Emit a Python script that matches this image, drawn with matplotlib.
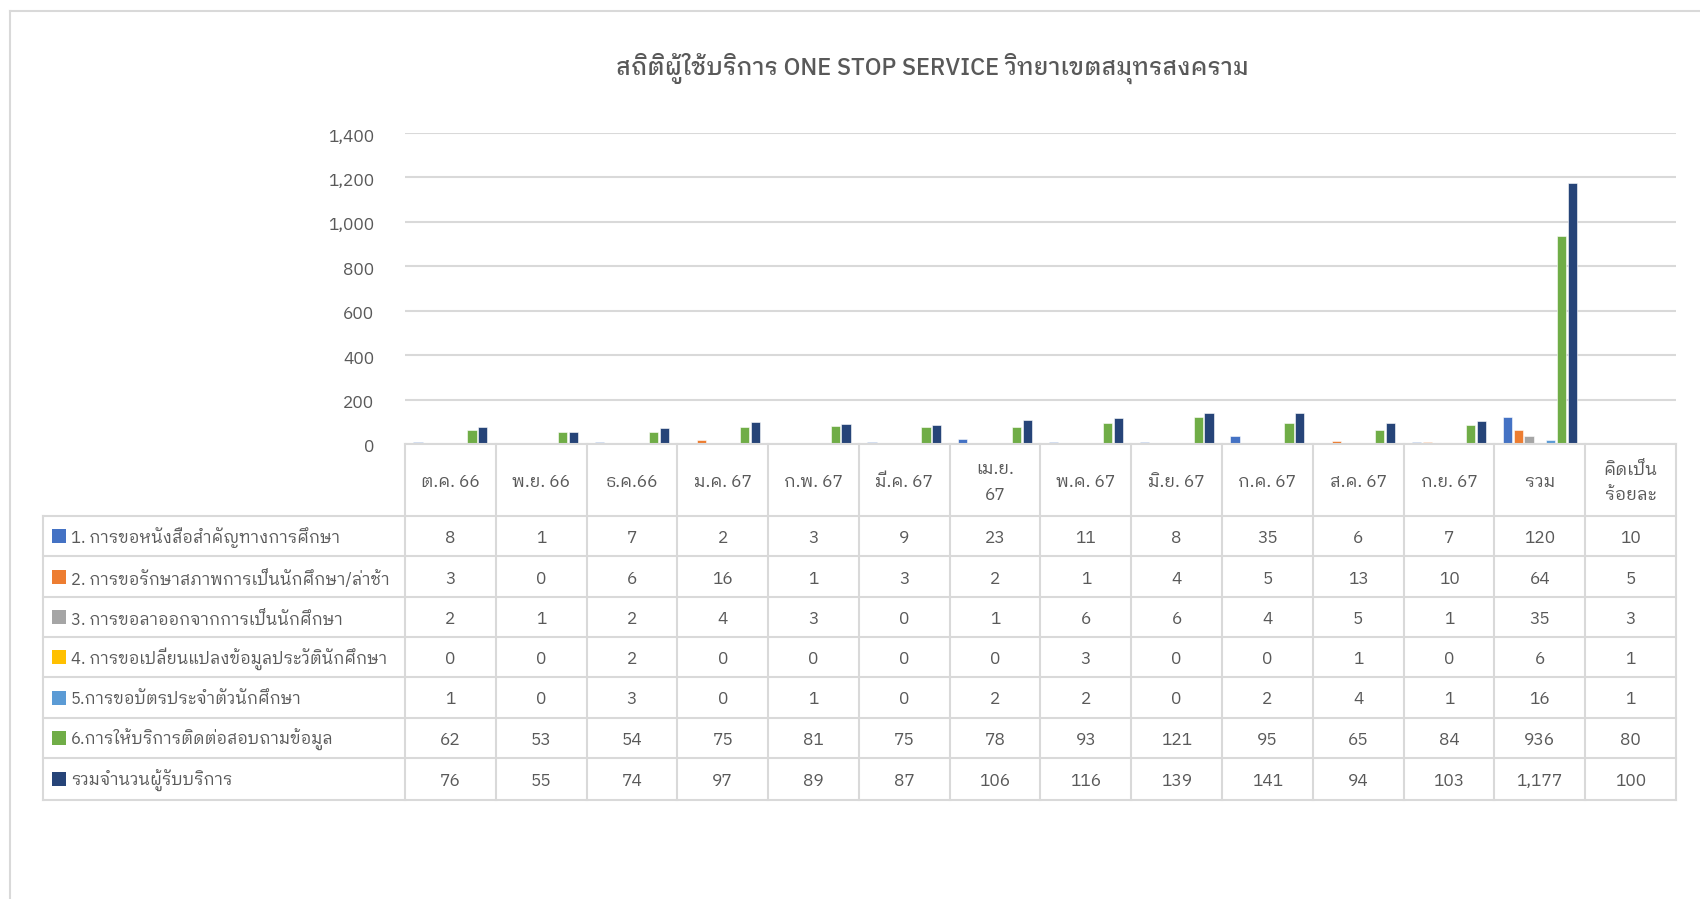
import matplotlib
matplotlib.use("Agg")
import matplotlib.pyplot as plt
import matplotlib.transforms as mtrans
import numpy as np

plt.rcParams["font.family"] = ["IBM Plex Sans Thai Looped", "Loma", "DejaVu Sans"]

title = "สถิติผู้ใช้บริการ ONE STOP SERVICE วิทยาเขตสมุทรสงคราม"
months = ["ต.ค. 66", "พ.ย. 66", "ธ.ค.66", "ม.ค. 67", "ก.พ. 67", "มี.ค. 67", "เม.ย.\n67",
          "พ.ค. 67", "มิ.ย. 67", "ก.ค. 67", "ส.ค. 67", "ก.ย. 67", "รวม", "คิดเป็น\nร้อยละ"]
labels = ["1. การขอหนังสือสำคัญทางการศึกษา",
          "2. การขอรักษาสภาพการเป็นนักศึกษา/ล่าช้า",
          "3. การขอลาออกจากการเป็นนักศึกษา",
          "4. การขอเปลี่ยนแปลงข้อมูลประวัตินักศึกษา",
          "5.การขอบัตรประจำตัวนักศึกษา",
          "6.การให้บริการติดต่อสอบถามข้อมูล",
          "รวมจำนวนผู้รับบริการ"]
s1 = [8, 1, 7, 2, 3, 9, 23, 11, 8, 35, 6, 7, 120, 10]
s2 = [3, 0, 6, 16, 1, 3, 2, 1, 4, 5, 13, 10, 64, 5]
s3 = [2, 1, 2, 4, 3, 0, 1, 6, 6, 4, 5, 1, 35, 3]
s4 = [0, 0, 2, 0, 0, 0, 0, 3, 0, 0, 1, 0, 6, 1]
s5 = [1, 0, 3, 0, 1, 0, 2, 2, 0, 2, 4, 1, 16, 1]
s6 = [62, 53, 54, 75, 81, 75, 78, 93, 121, 95, 65, 84, 936, 80]
s7 = [76, 55, 74, 97, 89, 87, 106, 116, 139, 141, 94, 103, 1177, 100]
series = [s1, s2, s3, s4, s5, s6, s7]
colors = ["#4472C4", "#ED7D31", "#A5A5A5", "#FFC000", "#5B9BD5", "#70AD47", "#264478"]

W, H = 1700, 899
txt = "#595959"
grid = "#d9d9d9"
fs = 12.5
fw = "normal"
fig = plt.figure(figsize=(W / 100, H / 100), dpi=100)

# layout in pixels
x0, x1 = 405, 1676      # plot / data columns
y_top, y_zero = 133, 444
tx0 = 43                # table left
rows_y = [516, 556, 597, 637, 677, 718, 758, 800]
ncol = len(months)
cw = (x1 - x0) / ncol

# bar axes
ax = fig.add_axes([x0 / W, 1 - y_zero / H, (x1 - x0) / W, (y_zero - y_top) / H])
ax.set_xlim(-0.5, ncol - 0.5)
ax.set_ylim(0, 1400)
ax.set_yticks(range(0, 1401, 200))
ax.set_yticklabels([f"{v:,}" for v in range(0, 1401, 200)], fontsize=fs, color=txt, fontweight=fw)
ax.tick_params(axis="y", length=0, pad=22)
shift = mtrans.ScaledTranslation(0, -2 / 100, fig.dpi_scale_trans)
for lbl in ax.get_yticklabels():
    lbl.set_transform(lbl.get_transform() + shift)
ax.set_xticks([])
ax.grid(axis="y", color=grid, linewidth=1.5)
ax.set_axisbelow(True)
for s in ax.spines.values():
    s.set_visible(False)

nbar = 13  # percentage column is not plotted
x = np.arange(nbar)
step = 0.119
for i, (vals, c) in enumerate(zip(series, colors)):
    ax.bar(x + (i - 3) * step, vals[:nbar], width=step * 0.85, color=c,
           edgecolor="white", linewidth=0.4, zorder=3)

# table axes in pixel coords
tb = fig.add_axes([0, 0, 1, 1])
tb.set_xlim(0, W)
tb.set_ylim(H, 0)
tb.axis("off")
lk = dict(color=grid, linewidth=1.5)

# outer chart border
tb.plot([10, 10], [H, 11], **lk)
tb.plot([10, W], [11, 11], **lk)

tb.plot([x0, x1], [y_zero, y_zero], **lk)
for yy in rows_y:
    tb.plot([tx0, x1], [yy, yy], **lk)
tb.plot([tx0, tx0], [rows_y[0], rows_y[-1]], **lk)
for j in range(ncol + 1):
    xx = x0 + j * cw
    tb.plot([xx, xx], [y_zero, rows_y[-1]], **lk)

# header
for j, m in enumerate(months):
    tb.text(x0 + (j + 0.5) * cw, (y_zero + rows_y[0]) / 2 + 2, m, ha="center", va="center",
            fontsize=fs, color=txt, linespacing=1.7, fontweight=fw)

# rows
for i, (lab, vals, c) in enumerate(zip(labels, series, colors)):
    yc = (rows_y[i] + rows_y[i + 1]) / 2
    tb.add_patch(plt.Rectangle((52, yc - 7), 14, 14, color=c, linewidth=0))
    tb.text(71, yc + 2, lab, ha="left", va="center", fontsize=12, color=txt, fontweight=fw)
    for j, v in enumerate(vals):
        tb.text(x0 + (j + 0.5) * cw, yc + 2, f"{v:,}", ha="center", va="center",
                fontsize=fs, color=txt, fontweight=fw)

tb.text(932, 68, title, ha="center", va="center", fontsize=17, color=txt, fontweight="medium")

fig.savefig("out.png", dpi=100)
